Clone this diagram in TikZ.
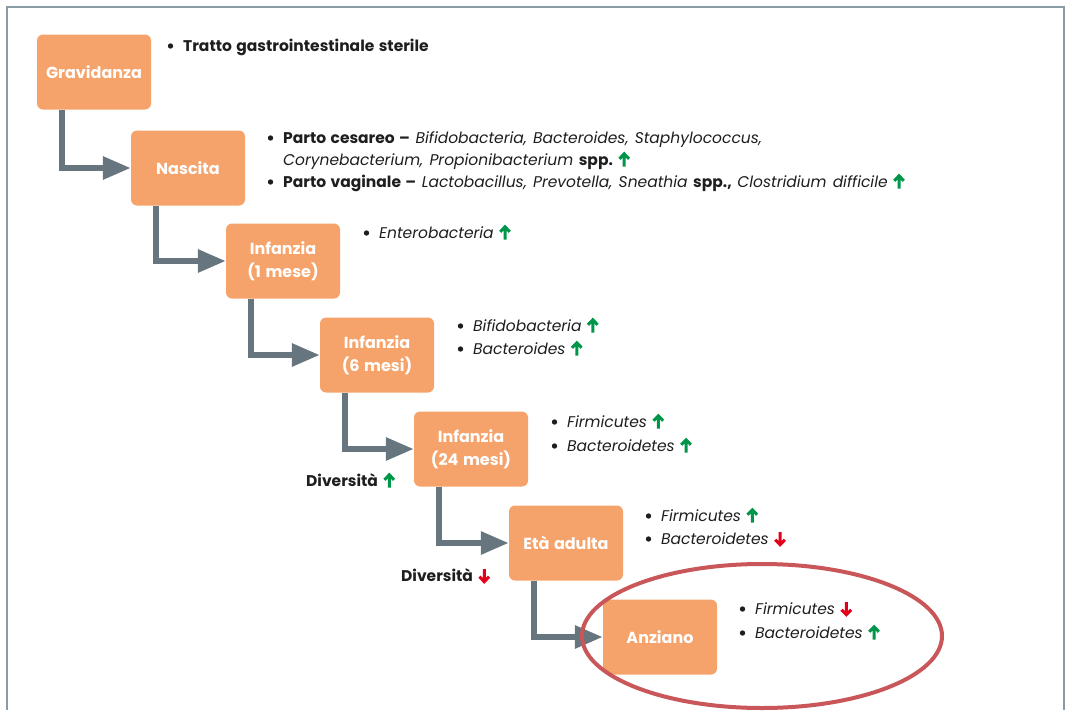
\documentclass[tikz,border=0pt]{standalone}
\usepackage{fontspec}
\setmainfont{Poppins}[WordSpace=1.35]
\usetikzlibrary{arrows.meta}
\definecolor{boxc}{HTML}{F5A36B}
\definecolor{linec}{HTML}{66757E}
\definecolor{framec}{HTML}{8A9BA3}
\definecolor{upc}{HTML}{00964A}
\definecolor{downc}{HTML}{E2001A}
\definecolor{ellc}{HTML}{C9575A}
\definecolor{txtc}{HTML}{1E1E1E}
\newcommand{\up}{\hspace{5pt}\tikz[x=1pt,y=1pt,baseline=0pt]{\draw[upc,line width=3pt,miter limit=10] (0,-1.5)--(0,11.5) (-4.8,6.2)--(0,11.2)--(4.8,6.2);}}
\newcommand{\dn}{\hspace{5pt}\tikz[x=1pt,y=1pt,baseline=0pt]{\draw[downc,line width=3pt,miter limit=10] (0,12)--(0,-1) (-4.8,4.3)--(0,-0.7)--(4.8,4.3);}}
\newcommand{\bl}{\llap{\tikz[baseline=0pt,x=1pt,y=1pt]{\fill[txtc] (0,5) circle (2.7pt);}\hspace{10pt}}}
\begin{document}
\begin{tikzpicture}[x=1pt,y=-1pt,
  stage/.style={fill=boxc, rounded corners=6pt, minimum width=114pt, minimum height=75pt,
    text=white, font=\bfseries\fontsize{16}{23}\selectfont, align=center, inner sep=0pt},
  conn/.style={draw=linec, line width=6pt, -{Triangle[length=28pt,width=22pt]}},
  info/.style={anchor=base west, inner sep=0pt, text=txtc, font=\fontsize{15.5}{18}\selectfont}]
\useasboundingbox (0,0) rectangle (1066,710);
\draw[framec, line width=1.5pt] (7,710) -- (7,7) -- (1064,7) -- (1064,710);

\node[stage] (g) at (94,72) {Gravidanza};
\node[stage] (n) at (188,168) {Nascita};
\node[stage] (i1) at (283,261) {Infanzia\\(1 mese)};
\node[stage] (i6) at (377,355) {Infanzia\\(6 mesi)};
\node[stage] (i24) at (471,449) {Infanzia\\(24 mesi)};
\node[stage] (ad) at (566,543) {Età adulta};
\node[stage] (an) at (660,637) {Anziano};

\draw[conn] ([xshift=25pt]g.south west) |- (n.west);
\draw[conn] ([xshift=25pt]n.south west) |- (i1.west);
\draw[conn] ([xshift=25pt]i1.south west) |- (i6.west);
\draw[conn] ([xshift=25pt]i6.south west) |- (i24.west);
\draw[conn] ([xshift=25pt]i24.south west) |- (ad.west);
\draw[conn] ([xshift=25pt]ad.south west) |- (an.west);

\node[info] (t1) at (183,51) {\bfseries\bl Tratto gastrointestinale sterile};
\node[info] (t2) at (283,143) {\bl\textbf{Parto cesareo –} \textit{Bifidobacteria, Bacteroides, Staphylococcus,}};
\node[info] (t3) at (283,165) {\textit{Corynebacterium, Propionibacterium} \textbf{spp.}\up};
\node[info] (t4) at (283,187) {\bl\textbf{Parto vaginale –} \textit{Lactobacillus, Prevotella, Sneathia} \textbf{spp.,} \textit{Clostridium difficile}\up};
\node[info] (t5) at (379,238) {\bl\textit{Enterobacteria}\up};
\node[info] (t6) at (473,331) {\bl\textit{Bifidobacteria}\up};
\node[info] (t7) at (473,354) {\bl\textit{Bacteroides}\up};
\node[info] (t8) at (567,427) {\bl\textit{Firmicutes}\up};
\node[info] (t9) at (567,451) {\bl\textit{Bacteroidetes}\up};
\node[info] (d1) at (306,486) {\textbf{Diversità}\up};
\node[info] (t10) at (661,521) {\bl\textit{Firmicutes}\up};
\node[info] (t11) at (661,544) {\bl\textit{Bacteroidetes}\dn};
\node[info] (d2) at (401,581) {\textbf{Diversità}\dn};
\node[info] (t12) at (755,614) {\bl\textit{Firmicutes}\dn};
\node[info] (t13) at (755,638) {\bl\textit{Bacteroidetes}\up};

\draw[ellc, line width=4pt] (762,636) ellipse [x radius=180, y radius=72];
\end{tikzpicture}
\end{document}
